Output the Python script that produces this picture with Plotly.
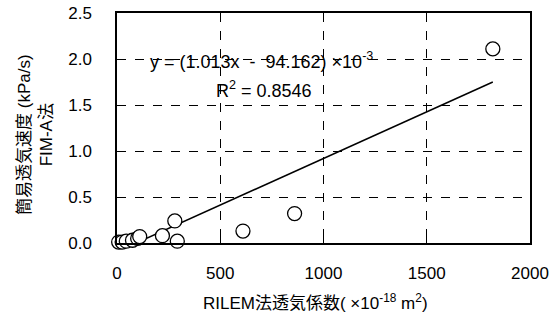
import plotly.graph_objects as go

# Data
rilem_x = [8, 25, 45, 75, 100, 110, 220, 280, 292, 610, 860, 1820]
fim_y = [0.01, 0.01, 0.02, 0.03, 0.05, 0.07, 0.08, 0.24, 0.02, 0.13, 0.32, 2.11]

slope = 1.013e-3
intercept = -94.162e-3

x_ticks = [0, 500, 1000, 1500, 2000]
y_ticks = [0.0, 0.5, 1.0, 1.5, 2.0, 2.5]
y_tick_text = ["0.0", "0.5", "1.0", "1.5", "2.0", "2.5"]

FONT = "Liberation Sans, Arial, Noto Sans CJK JP, sans-serif"
FS = 17

line_x = [min(rilem_x), max(rilem_x)]
line_y = [slope * v + intercept for v in line_x]

fig = go.Figure()
fig.add_trace(go.Scatter(x=line_x, y=line_y, mode="lines",
                         line=dict(color="black", width=1.5),
                         showlegend=False, hoverinfo="skip"))
fig.add_trace(go.Scatter(x=rilem_x, y=fim_y, mode="markers",
                         marker=dict(symbol="circle", size=14, color="white",
                                     line=dict(color="black", width=1.3)),
                         cliponaxis=False, showlegend=False))

axis_common = dict(showline=True, linecolor="black", linewidth=1.5, mirror=True,
                   ticks="inside", ticklen=5, tickcolor="black", tickwidth=1,
                   showgrid=True, gridcolor="black", griddash="dash", gridwidth=1,
                   zeroline=False, ticklabeloverflow="allow", automargin=False,
                   tickfont=dict(size=FS, color="black", family=FONT))

fig.update_xaxes(range=[0, 2000], tickvals=x_ticks, ticktext=[str(v) for v in x_ticks],
                 ticklabelstandoff=14, **axis_common)
fig.update_yaxes(range=[0, 2.5], tickvals=y_ticks, ticktext=y_tick_text,
                 ticklabelstandoff=20, **axis_common)

# axis titles
fig.add_annotation(x=0.48, y=0, xref="paper", yref="paper", yanchor="top", yshift=-46,
                   showarrow=False,
                   text="RILEM法透気係数( ×10<sup>-18</sup> m<sup>2</sup>)",
                   font=dict(size=FS, color="black", family=FONT))
fig.add_annotation(x=0, y=0.5, xref="paper", yref="paper", xanchor="center", yanchor="middle",
                   xshift=-82, yshift=-7, textangle=-90, showarrow=False,
                   text="簡易透気速度 (kPa/s)<br>FIM-A法",
                   font=dict(size=FS, color="black", family=FONT))

fig.add_annotation(x=0.351, y=0.852, xref="paper", yref="paper", showarrow=False,
                   text="y = (1.013x  -  94.162) ×10<sup>-3</sup>",
                   font=dict(size=18, color="black", family=FONT))
fig.add_annotation(x=0.356, y=0.726, xref="paper", yref="paper", showarrow=False,
                   text="R<sup>2</sup> = 0.8546",
                   font=dict(size=18, color="black", family=FONT))

fig.update_layout(width=558, height=322, margin=dict(l=117, r=28, t=13, b=79, autoexpand=False),
                  paper_bgcolor="white", plot_bgcolor="white",
                  font=dict(family=FONT, color="black"))

fig.write_html("out.html", config={"displayModeBar": False},
               post_script="document.body.style.margin='0';document.body.style.overflow='hidden';")
